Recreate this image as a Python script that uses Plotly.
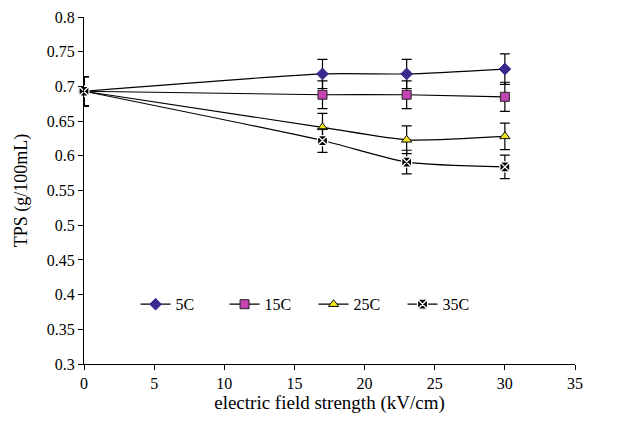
import plotly.graph_objects as go

x_vals = [0, 17, 23, 30]
series_names = ["5C", "15C", "25C", "35C"]
tps_5c = [0.693, 0.718, 0.718, 0.725]
tps_15c = [0.693, 0.688, 0.688, 0.685]
tps_25c = [0.693, 0.641, 0.623, 0.628]
tps_35c = [0.693, 0.622, 0.591, 0.584]
err_5c = [0.021, 0.021, 0.021, 0.022]
err_15c = [0.021, 0.020, 0.020, 0.021]
err_25c = [0.021, 0.020, 0.020, 0.019]
err_35c = [0.021, 0.017, 0.017, 0.017]
y_ticks = [0.3, 0.35, 0.4, 0.45, 0.5, 0.55, 0.6, 0.65, 0.7, 0.75, 0.8]
x_ticks = [0, 5, 10, 15, 20, 25, 30, 35]

styles = [
    dict(symbol="diamond", color="#3B2A8E", line=dict(color="#3B2A8E", width=1), size=9),
    dict(symbol="square", color="#C444B4", line=dict(color="#222222", width=1), size=9),
    dict(symbol="triangle-up", color="#F2E41E", line=dict(color="#111111", width=1), size=9),
    dict(symbol="square-x", color="#000000", line=dict(color="#FFFFFF", width=1.3), size=10),
]

fig = go.Figure()
for name, ys, es, st in zip(series_names, [tps_5c, tps_15c, tps_25c, tps_35c],
                            [err_5c, err_15c, err_25c, err_35c], styles):
    fig.add_trace(go.Scatter(
        x=x_vals, y=ys, name=name, mode="lines+markers", cliponaxis=False,
        line=dict(color="black", width=1.2, shape="spline", smoothing=0.6),
        marker=st,
        error_y=dict(type="data", array=es, visible=True, color="black", thickness=1.2, width=5),
    ))

font_family = "Liberation Serif, Times New Roman, serif"
fig.update_layout(
    width=620, height=414,
    margin=dict(l=76, r=53, t=9, b=58),
    paper_bgcolor="white", plot_bgcolor="white",
    font=dict(family=font_family, size=16, color="black"),
    showlegend=True,
    legend=dict(orientation="h", x=0.105, y=0.172, xanchor="left", yanchor="middle",
                bgcolor="rgba(0,0,0,0)", font=dict(size=16, family=font_family),
                entrywidth=44, entrywidthmode="pixels"),
    xaxis=dict(range=[0, 35], tickvals=x_ticks, showgrid=False, zeroline=False,
               showline=True, linecolor="black", linewidth=1.3, automargin=False,
               ticks="outside", ticklen=5, tickcolor="black", tickfont=dict(size=16),
               title=dict(text="electric field strength (kV/cm)", font=dict(size=19), standoff=4)),
    yaxis=dict(range=[0.3, 0.8], tickvals=y_ticks, ticktext=[f"{v:g}" for v in y_ticks],
               showgrid=False, zeroline=False, automargin=False,
               showline=True, linecolor="black", linewidth=1.3,
               ticks="outside", ticklen=5, tickcolor="black", tickfont=dict(size=16),
               title=dict(text="TPS (g/100mL)", font=dict(size=18), standoff=14)),
)
fig.write_html("out.html")
